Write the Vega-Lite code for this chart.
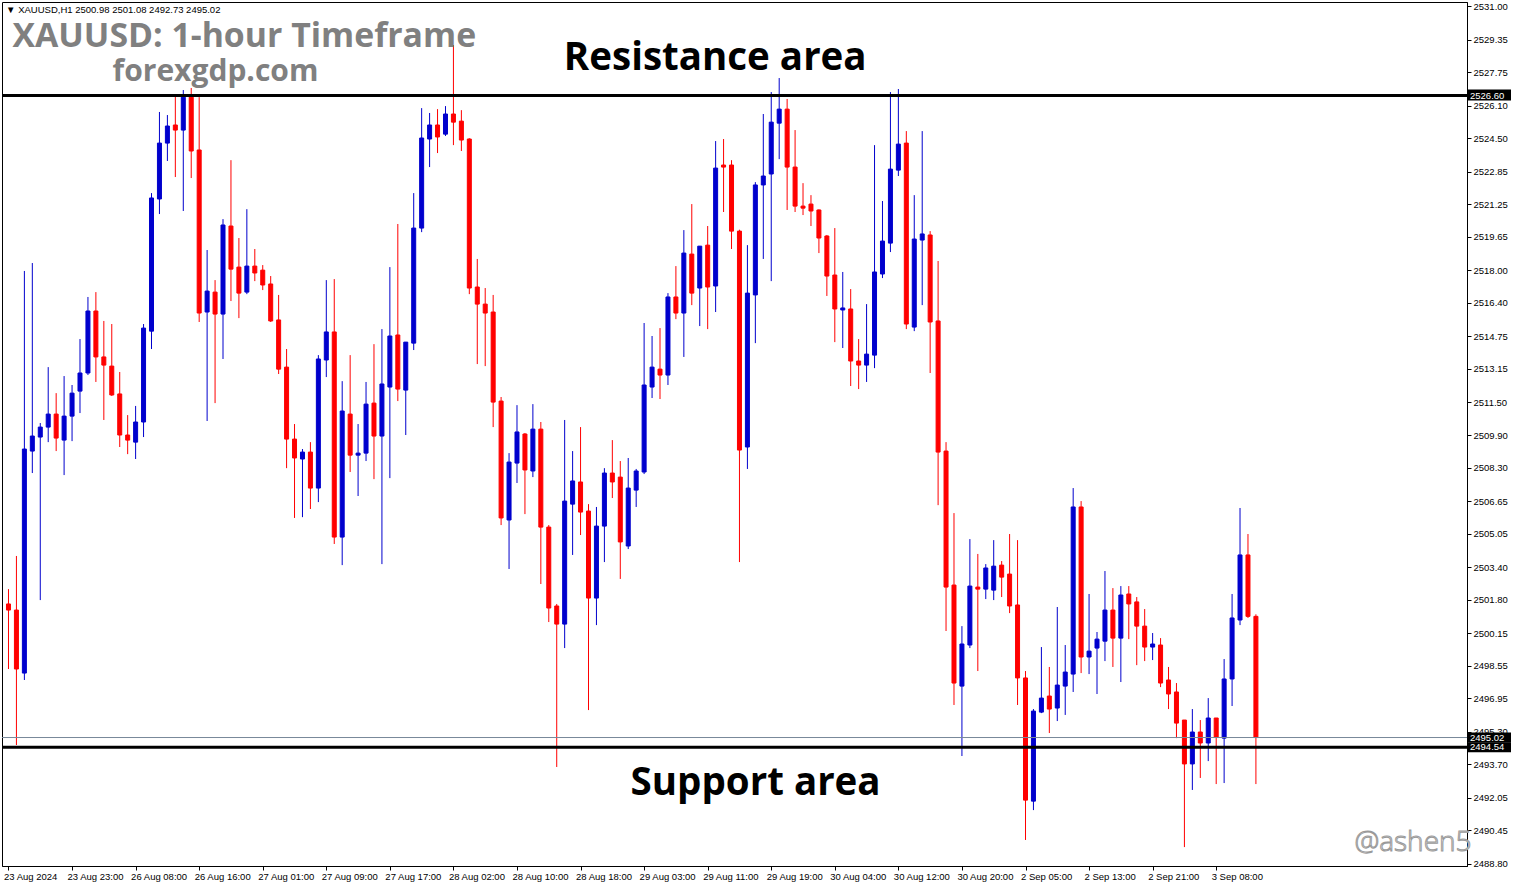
{
"$schema":"https://vega.github.io/schema/vega-lite/v6.json",
"width":1465,"height":864,
"autosize":"none",
"padding":{"left":2,"top":2,"right":46,"bottom":22},
"background":"white",
"config":{"view":{"stroke":"black","strokeWidth":1},"font":"Liberation Sans",
 "axis":{"labelOverlap":false,"labelBound":false,"labelFlush":false,"grid":false,"title":null,"labelFont":"Liberation Sans","labelFontSize":9.5,"labelColor":"black","tickColor":"black","domainColor":"black","tickSize":4}},
"datasets":{"candles":[
{"i":0,"o":2501.59,"h":2502.32,"l":2498.39,"c":2501.29},
{"i":1,"o":2501.29,"h":2503.95,"l":2494.65,"c":2498.39},
{"i":2,"o":2498.19,"h":2517.97,"l":2497.85,"c":2509.21},
{"i":3,"o":2509.11,"h":2518.36,"l":2508.03,"c":2509.85},
{"i":4,"o":2509.80,"h":2510.49,"l":2501.78,"c":2510.29},
{"i":5,"o":2510.29,"h":2513.24,"l":2509.55,"c":2510.93},
{"i":6,"o":2510.93,"h":2511.96,"l":2509.11,"c":2509.75},
{"i":7,"o":2509.65,"h":2512.80,"l":2507.93,"c":2510.83},
{"i":8,"o":2510.83,"h":2512.36,"l":2509.60,"c":2511.96},
{"i":9,"o":2512.06,"h":2514.62,"l":2510.98,"c":2512.95},
{"i":10,"o":2512.95,"h":2516.69,"l":2512.85,"c":2516.00},
{"i":11,"o":2516.00,"h":2516.93,"l":2512.51,"c":2513.74},
{"i":12,"o":2513.74,"h":2515.51,"l":2510.64,"c":2513.34},
{"i":13,"o":2513.29,"h":2515.36,"l":2511.82,"c":2511.87},
{"i":14,"o":2511.92,"h":2513.00,"l":2509.31,"c":2509.90},
{"i":15,"o":2509.90,"h":2510.88,"l":2508.96,"c":2509.65},
{"i":16,"o":2509.55,"h":2511.33,"l":2508.72,"c":2510.54},
{"i":17,"o":2510.54,"h":2515.36,"l":2509.80,"c":2515.16},
{"i":18,"o":2515.01,"h":2521.80,"l":2514.13,"c":2521.56},
{"i":19,"o":2521.51,"h":2525.79,"l":2520.77,"c":2524.26},
{"i":20,"o":2524.26,"h":2525.64,"l":2523.38,"c":2525.10},
{"i":21,"o":2525.15,"h":2526.62,"l":2522.59,"c":2524.90},
{"i":22,"o":2524.90,"h":2526.87,"l":2520.92,"c":2526.52},
{"i":23,"o":2526.52,"h":2526.97,"l":2522.54,"c":2523.87},
{"i":24,"o":2523.92,"h":2526.52,"l":2515.46,"c":2515.90},
{"i":25,"o":2515.95,"h":2519.00,"l":2510.59,"c":2516.98},
{"i":26,"o":2516.93,"h":2517.52,"l":2511.47,"c":2515.85},
{"i":27,"o":2515.85,"h":2520.52,"l":2513.64,"c":2520.23},
{"i":28,"o":2520.18,"h":2523.42,"l":2516.49,"c":2518.06},
{"i":29,"o":2518.16,"h":2519.59,"l":2515.65,"c":2516.88},
{"i":30,"o":2516.93,"h":2521.01,"l":2516.83,"c":2518.21},
{"i":31,"o":2518.21,"h":2519.05,"l":2517.47,"c":2517.87},
{"i":32,"o":2518.01,"h":2518.26,"l":2517.03,"c":2517.28},
{"i":33,"o":2517.33,"h":2517.72,"l":2515.46,"c":2515.51},
{"i":34,"o":2515.56,"h":2516.79,"l":2512.90,"c":2513.14},
{"i":35,"o":2513.24,"h":2514.13,"l":2508.27,"c":2509.70},
{"i":36,"o":2509.70,"h":2510.44,"l":2505.82,"c":2508.77},
{"i":37,"o":2508.72,"h":2509.21,"l":2505.86,"c":2509.06},
{"i":38,"o":2509.06,"h":2509.55,"l":2506.26,"c":2507.29},
{"i":39,"o":2507.29,"h":2513.83,"l":2506.60,"c":2513.64},
{"i":40,"o":2513.59,"h":2517.52,"l":2512.75,"c":2514.97},
{"i":41,"o":2514.97,"h":2517.57,"l":2504.54,"c":2504.88},
{"i":42,"o":2504.88,"h":2512.55,"l":2503.50,"c":2511.08},
{"i":43,"o":2510.93,"h":2513.83,"l":2508.08,"c":2508.91},
{"i":44,"o":2508.91,"h":2510.44,"l":2506.90,"c":2509.01},
{"i":45,"o":2509.01,"h":2512.51,"l":2508.62,"c":2511.42},
{"i":46,"o":2511.47,"h":2514.37,"l":2507.73,"c":2509.85},
{"i":47,"o":2509.85,"h":2515.11,"l":2503.55,"c":2512.41},
{"i":48,"o":2512.26,"h":2518.16,"l":2507.78,"c":2514.77},
{"i":49,"o":2514.82,"h":2520.28,"l":2511.57,"c":2512.16},
{"i":50,"o":2512.11,"h":2514.47,"l":2509.90,"c":2514.47},
{"i":51,"o":2514.42,"h":2521.80,"l":2514.08,"c":2520.08},
{"i":52,"o":2520.08,"h":2525.98,"l":2519.88,"c":2524.51},
{"i":53,"o":2524.46,"h":2525.74,"l":2523.08,"c":2525.15},
{"i":54,"o":2525.15,"h":2525.93,"l":2523.77,"c":2524.56},
{"i":55,"o":2524.70,"h":2526.08,"l":2524.61,"c":2525.69},
{"i":56,"o":2525.69,"h":2529.08,"l":2524.16,"c":2525.29},
{"i":57,"o":2525.34,"h":2525.88,"l":2523.87,"c":2524.41},
{"i":58,"o":2524.46,"h":2524.50,"l":2516.83,"c":2517.13},
{"i":59,"o":2517.18,"h":2518.56,"l":2513.39,"c":2516.34},
{"i":60,"o":2516.34,"h":2517.13,"l":2513.29,"c":2515.90},
{"i":61,"o":2515.95,"h":2516.79,"l":2510.29,"c":2511.52},
{"i":62,"o":2511.57,"h":2511.77,"l":2505.47,"c":2505.82},
{"i":63,"o":2505.72,"h":2509.01,"l":2503.31,"c":2508.57},
{"i":64,"o":2508.52,"h":2511.37,"l":2507.54,"c":2510.05},
{"i":65,"o":2509.95,"h":2510.00,"l":2506.01,"c":2508.18},
{"i":66,"o":2508.13,"h":2511.42,"l":2507.83,"c":2510.19},
{"i":67,"o":2510.19,"h":2510.54,"l":2502.57,"c":2505.37},
{"i":68,"o":2505.37,"h":2505.47,"l":2500.70,"c":2501.39},
{"i":69,"o":2501.49,"h":2501.59,"l":2493.57,"c":2500.60},
{"i":70,"o":2500.60,"h":2510.64,"l":2499.42,"c":2506.65},
{"i":71,"o":2506.50,"h":2509.11,"l":2504.00,"c":2507.64},
{"i":72,"o":2507.59,"h":2510.29,"l":2504.98,"c":2506.11},
{"i":73,"o":2506.16,"h":2506.50,"l":2496.37,"c":2501.88},
{"i":74,"o":2501.88,"h":2506.36,"l":2500.55,"c":2505.42},
{"i":75,"o":2505.42,"h":2508.27,"l":2503.65,"c":2508.03},
{"i":76,"o":2508.03,"h":2509.65,"l":2506.80,"c":2507.59},
{"i":77,"o":2507.83,"h":2508.62,"l":2502.82,"c":2504.64},
{"i":78,"o":2504.44,"h":2508.77,"l":2504.29,"c":2507.29},
{"i":79,"o":2507.19,"h":2508.23,"l":2506.36,"c":2508.13},
{"i":80,"o":2508.08,"h":2515.41,"l":2507.98,"c":2512.36},
{"i":81,"o":2512.26,"h":2514.77,"l":2511.72,"c":2513.24},
{"i":82,"o":2513.14,"h":2515.16,"l":2511.67,"c":2512.85},
{"i":83,"o":2512.85,"h":2516.88,"l":2512.36,"c":2516.69},
{"i":84,"o":2516.69,"h":2518.21,"l":2515.60,"c":2515.90},
{"i":85,"o":2515.90,"h":2519.98,"l":2513.74,"c":2518.85},
{"i":86,"o":2518.80,"h":2521.26,"l":2516.29,"c":2516.88},
{"i":87,"o":2517.13,"h":2519.19,"l":2515.26,"c":2519.19},
{"i":88,"o":2519.24,"h":2520.18,"l":2515.11,"c":2517.18},
{"i":89,"o":2517.23,"h":2524.36,"l":2515.95,"c":2523.03},
{"i":90,"o":2523.18,"h":2524.46,"l":2520.87,"c":2523.08},
{"i":91,"o":2523.18,"h":2523.42,"l":2519.05,"c":2519.93},
{"i":92,"o":2519.93,"h":2520.00,"l":2503.65,"c":2509.16},
{"i":93,"o":2509.31,"h":2519.24,"l":2508.23,"c":2516.88},
{"i":94,"o":2516.79,"h":2522.34,"l":2514.42,"c":2522.20},
{"i":95,"o":2522.20,"h":2525.69,"l":2518.56,"c":2522.64},
{"i":96,"o":2522.74,"h":2526.77,"l":2517.47,"c":2525.29},
{"i":97,"o":2525.24,"h":2527.46,"l":2523.47,"c":2525.93},
{"i":98,"o":2525.93,"h":2526.43,"l":2520.97,"c":2523.08},
{"i":99,"o":2523.08,"h":2524.90,"l":2520.87,"c":2521.16},
{"i":100,"o":2521.16,"h":2522.29,"l":2520.72,"c":2521.06},
{"i":101,"o":2521.26,"h":2521.70,"l":2520.18,"c":2520.92},
{"i":102,"o":2520.97,"h":2521.00,"l":2518.85,"c":2519.59},
{"i":103,"o":2519.69,"h":2519.74,"l":2516.74,"c":2517.72},
{"i":104,"o":2517.77,"h":2520.08,"l":2514.47,"c":2516.10},
{"i":105,"o":2516.05,"h":2517.92,"l":2514.18,"c":2516.15},
{"i":106,"o":2516.10,"h":2517.08,"l":2512.31,"c":2513.54},
{"i":107,"o":2513.54,"h":2514.62,"l":2512.16,"c":2513.34},
{"i":108,"o":2513.34,"h":2516.34,"l":2512.51,"c":2513.88},
{"i":109,"o":2513.83,"h":2524.16,"l":2513.19,"c":2517.92},
{"i":110,"o":2517.82,"h":2521.41,"l":2517.62,"c":2519.44},
{"i":111,"o":2519.34,"h":2526.77,"l":2518.90,"c":2522.98},
{"i":112,"o":2522.93,"h":2526.92,"l":2522.64,"c":2524.21},
{"i":113,"o":2524.26,"h":2524.85,"l":2515.11,"c":2515.36},
{"i":114,"o":2515.21,"h":2521.70,"l":2515.01,"c":2519.54},
{"i":115,"o":2519.49,"h":2524.85,"l":2516.29,"c":2519.79},
{"i":116,"o":2519.74,"h":2519.93,"l":2512.95,"c":2515.46},
{"i":117,"o":2515.51,"h":2518.46,"l":2506.45,"c":2509.06},
{"i":118,"o":2509.11,"h":2509.55,"l":2500.26,"c":2502.42},
{"i":119,"o":2502.52,"h":2506.06,"l":2496.62,"c":2497.70},
{"i":120,"o":2497.55,"h":2500.50,"l":2494.11,"c":2499.62},
{"i":121,"o":2499.57,"h":2504.78,"l":2499.42,"c":2502.47},
{"i":122,"o":2502.42,"h":2504.05,"l":2498.29,"c":2502.32},
{"i":123,"o":2502.32,"h":2503.55,"l":2501.83,"c":2503.36},
{"i":124,"o":2502.27,"h":2504.73,"l":2501.78,"c":2503.45},
{"i":125,"o":2503.50,"h":2503.70,"l":2501.93,"c":2502.91},
{"i":126,"o":2503.06,"h":2505.03,"l":2501.14,"c":2501.49},
{"i":127,"o":2501.54,"h":2504.73,"l":2496.62,"c":2497.95},
{"i":128,"o":2497.95,"h":2498.29,"l":2489.98,"c":2491.94},
{"i":129,"o":2491.89,"h":2496.42,"l":2491.45,"c":2496.32},
{"i":130,"o":2496.27,"h":2499.47,"l":2496.22,"c":2496.96},
{"i":131,"o":2497.06,"h":2498.49,"l":2495.24,"c":2496.42},
{"i":132,"o":2496.47,"h":2501.44,"l":2495.83,"c":2497.60},
{"i":133,"o":2497.55,"h":2499.57,"l":2496.13,"c":2498.24},
{"i":134,"o":2498.14,"h":2507.29,"l":2497.26,"c":2506.36},
{"i":135,"o":2506.36,"h":2506.65,"l":2498.19,"c":2498.98},
{"i":136,"o":2498.98,"h":2502.08,"l":2498.14,"c":2499.27},
{"i":137,"o":2499.42,"h":2500.21,"l":2497.16,"c":2499.86},
{"i":138,"o":2499.76,"h":2503.21,"l":2498.78,"c":2501.29},
{"i":139,"o":2501.29,"h":2502.37,"l":2498.49,"c":2499.91},
{"i":140,"o":2499.91,"h":2502.47,"l":2497.75,"c":2502.03},
{"i":141,"o":2502.08,"h":2502.47,"l":2499.86,"c":2501.59},
{"i":142,"o":2501.69,"h":2501.93,"l":2498.58,"c":2500.50},
{"i":143,"o":2500.50,"h":2501.34,"l":2498.78,"c":2499.47},
{"i":144,"o":2499.47,"h":2500.16,"l":2498.83,"c":2499.62},
{"i":145,"o":2499.57,"h":2499.91,"l":2497.50,"c":2497.70},
{"i":146,"o":2497.85,"h":2498.49,"l":2496.42,"c":2497.16},
{"i":147,"o":2497.26,"h":2497.70,"l":2494.99,"c":2495.73},
{"i":148,"o":2495.88,"h":2495.88,"l":2489.63,"c":2493.72},
{"i":149,"o":2493.72,"h":2496.42,"l":2492.44,"c":2495.29},
{"i":150,"o":2495.29,"h":2495.88,"l":2493.03,"c":2494.75},
{"i":151,"o":2494.75,"h":2496.96,"l":2493.86,"c":2495.98},
{"i":152,"o":2495.98,"h":2495.98,"l":2492.73,"c":2495.04},
{"i":153,"o":2494.99,"h":2498.88,"l":2492.78,"c":2497.90},
{"i":154,"o":2497.90,"h":2502.08,"l":2496.57,"c":2500.90},
{"i":155,"o":2500.80,"h":2506.31,"l":2500.55,"c":2504.00},
{"i":156,"o":2504.00,"h":2505.03,"l":2500.90,"c":2500.98},
{"i":157,"o":2500.98,"h":2501.08,"l":2492.73,"c":2495.02}
],"one":[{}]},
"data":{"name":"candles"},
"layer":[
{"mark":{"type":"bar","width":4,"strokeWidth":1},
 "encoding":{
  "x":{"field":"i","type":"quantitative","scale":{"domain":[-0.1875,182.9375],"nice":false,"zero":false},
   "axis":{"orient":"bottom","values":[0,8,16,24,32,40,48,56,64,72,80,88,96,104,112,120,128,136,144,152],"tickCount":50,
    "labelExpr":"['23 Aug 2024','23 Aug 23:00','26 Aug 08:00','26 Aug 16:00','27 Aug 01:00','27 Aug 09:00','27 Aug 17:00','28 Aug 02:00','28 Aug 10:00','28 Aug 18:00','29 Aug 03:00','29 Aug 11:00','29 Aug 19:00','30 Aug 04:00','30 Aug 12:00','30 Aug 20:00','2 Sep 05:00','2 Sep 13:00','2 Sep 21:00','3 Sep 08:00'][round(datum.value/8)]",
    "labelAlign":"left","labelOffset":-5,"labelPadding":1,"title":null}},
  "y":{"field":"o","type":"quantitative","scale":{"domain":[2488.70,2531.20],"nice":false,"zero":false},
   "axis":{"orient":"right","values":[2531.00,2529.35,2527.75,2526.10,2524.50,2522.85,2521.25,2519.65,2518.00,2516.40,2514.75,2513.15,2511.50,2509.90,2508.30,2506.65,2505.05,2503.40,2501.80,2500.15,2498.55,2496.95,2495.30,2493.70,2492.05,2490.45,2488.80],"tickCount":60,
    "format":".2f","labelPadding":2,"title":null}},
  "y2":{"field":"c"},
  "fill":{"condition":{"test":"datum.c > datum.o","value":"#0000CD"},"value":"#FF0000"},
  "stroke":{"condition":{"test":"datum.c > datum.o","value":"#0000CD"},"value":"#FF0000"}
 }},
{"mark":{"type":"rule","strokeWidth":1},
 "encoding":{
  "x":{"field":"i","type":"quantitative"},
  "y":{"field":"l","type":"quantitative"},
  "y2":{"field":"h"},
  "color":{"condition":{"test":"datum.c > datum.o","value":"#0000CD"},"value":"#FF0000"}
 }},
{"data":{"name":"one"},"mark":{"type":"rule","color":"#778899","strokeWidth":1},
 "encoding":{"y":{"datum":2495.02,"type":"quantitative"}}},
{"data":{"name":"one"},"mark":{"type":"rule","color":"black","strokeWidth":3},
 "encoding":{"y":{"datum":2526.60,"type":"quantitative"}}},
{"data":{"name":"one"},"mark":{"type":"rule","color":"black","strokeWidth":3},
 "encoding":{"y":{"datum":2494.54,"type":"quantitative"}}},
{"data":{"name":"one"},"mark":{"type":"text","text":"▼ XAUUSD,H1  2500.98 2501.08 2492.73 2495.02","align":"left","baseline":"alphabetic","font":"Liberation Sans","fontSize":9.5,"color":"black"},
 "encoding":{"x":{"datum":-0.3,"type":"quantitative"},"y":{"datum":2530.66,"type":"quantitative"}}},
{"data":{"name":"one"},"mark":{"type":"text","text":"XAUUSD: 1-hour Timeframe","align":"left","baseline":"alphabetic","font":"Open Sans","fontWeight":"bold","fontSize":33.8,"color":"#808080"},
 "encoding":{"x":{"datum":0.5,"type":"quantitative"},"y":{"datum":2528.98,"type":"quantitative"}}},
{"data":{"name":"one"},"mark":{"type":"text","text":"forexgdp.com","align":"left","baseline":"alphabetic","font":"Open Sans","fontWeight":"bold","fontSize":30,"color":"#808080"},
 "encoding":{"x":{"datum":13.1,"type":"quantitative"},"y":{"datum":2527.30,"type":"quantitative"}}},
{"data":{"name":"one"},"mark":{"type":"text","text":"Resistance area","align":"left","baseline":"alphabetic","font":"Open Sans","fontWeight":"bold","fontSize":38.5,"color":"black"},
 "encoding":{"x":{"datum":69.9,"type":"quantitative"},"y":{"datum":2527.85,"type":"quantitative"}}},
{"data":{"name":"one"},"mark":{"type":"text","text":"Support area","align":"left","baseline":"alphabetic","font":"Open Sans","fontWeight":"bold","fontSize":38.5,"color":"black"},
 "encoding":{"x":{"datum":78.3,"type":"quantitative"},"y":{"datum":2492.20,"type":"quantitative"}}},
{"data":{"name":"one"},"mark":{"type":"text","text":"@ashen5","align":"left","baseline":"alphabetic","font":"Open Sans","fontWeight":300,"fontSize":28,"fill":"white","stroke":"#9a9a9a","strokeWidth":1},
 "encoding":{"x":{"datum":169.4,"type":"quantitative"},"y":{"datum":2489.45,"type":"quantitative"}}},
{"data":{"name":"one"},"mark":{"type":"rect","color":"black","x2Offset":44,"yOffset":-6,"y2Offset":5},
 "encoding":{"x":{"value":"width"},"x2":{"value":"width"},"y":{"datum":2526.60,"type":"quantitative"},"y2":{"datum":2526.60}}},
{"data":{"name":"one"},"mark":{"type":"rect","color":"black","x2Offset":44,"yOffset":-5,"y2Offset":5},
 "encoding":{"x":{"value":"width"},"x2":{"value":"width"},"y":{"datum":2495.02,"type":"quantitative"},"y2":{"datum":2495.02}}},
{"data":{"name":"one"},"mark":{"type":"rect","color":"black","x2Offset":44,"yOffset":-5,"y2Offset":5},
 "encoding":{"x":{"value":"width"},"x2":{"value":"width"},"y":{"datum":2494.54,"type":"quantitative"},"y2":{"datum":2494.54}}},
{"data":{"name":"one"},"mark":{"type":"text","align":"left","baseline":"middle","dx":3,"font":"Liberation Sans","fontSize":9.5,"color":"white","text":"2526.60"},
 "encoding":{"x":{"value":"width"},"y":{"datum":2526.60,"type":"quantitative"}}},
{"data":{"name":"one"},"mark":{"type":"text","align":"left","baseline":"middle","dx":3,"font":"Liberation Sans","fontSize":9.5,"color":"white","text":"2495.02"},
 "encoding":{"x":{"value":"width"},"y":{"datum":2495.02,"type":"quantitative"}}},
{"data":{"name":"one"},"mark":{"type":"text","align":"left","baseline":"middle","dx":3,"font":"Liberation Sans","fontSize":9.5,"color":"white","text":"2494.54"},
 "encoding":{"x":{"value":"width"},"y":{"datum":2494.54,"type":"quantitative"}}}
]
}
